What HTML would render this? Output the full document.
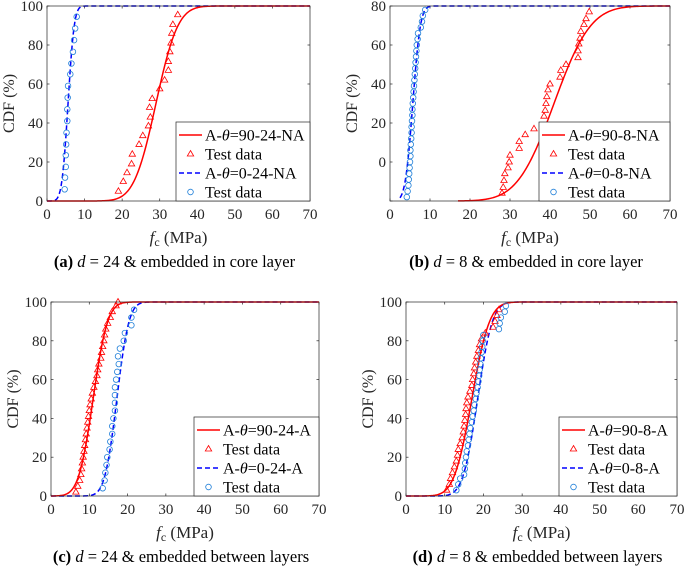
<!DOCTYPE html>
<html><head><meta charset="utf-8"><style>
body{margin:0;background:#fff;}
svg, svg text{font-family:"Liberation Serif","DejaVu Serif",serif;}
</style></head><body>
<svg id="fig" width="685" height="569" viewBox="0 0 685 569" font-family="Liberation Serif, serif" xmlns="http://www.w3.org/2000/svg"></svg>
<script>
// ---- Data ----
const xTicks = [0,10,20,30,40,50,60,70];
const yTicks100 = [0,20,40,60,80,100];
const yTicksB = [-20,0,20,40,60,80];
const yLabelsB = ["","0","20","40","60","80"];
// fitted normal params [mean, sd]
const fitA90 = [29, 4.6];
const fitA0 = [5.6, 1.3];
const fitB90 = [41, 7.2];
const fitB0 = [5.7, 1.5];
const fitC90 = [11, 3.0];
const fitC0 = [17.2, 2.5];
const fitD90 = [17, 3.6];
const fitD0 = [18.5, 3.0];
// test data
const triAx = [19,20.3,21.3,22.5,22.7,24.5,25.5,27,27.5,27.3,28,30,31.3,32.3,32.3,32.7,33,33.2,33.5,34.8];
const triAy = [5,10,14.5,19,24,29,33.5,38.5,43,48,52.5,57.5,62,67,71.5,76.5,81,86,90.5,95.5];
const cirAx = [4.7,4.8,5,5,5.1,5.2,5.4,5.4,5.5,5.6,6.2,6.5,6.9,7.2,7.5,7.9];
const cirAy = [6,12,17.5,23.5,29,35,41,47,53,59,65,70.5,76.5,82.5,88.5,94.5];
const triBx = [28,28.3,28.5,28.7,29.5,29.8,30,32.3,32.3,33.8,36,38.5,38.8,39,39.2,39.5,40,42.5,42.7,44,47,47,47.2,47.5,47.7,48.5,49,49.8];
const triBy = [-16,-13,-9.5,-6,-3,0,3.5,7,10.5,14,17,23.5,26.5,30,33.5,37,40,43.5,47,50,53.5,57,60.5,63.5,67,70.5,73.5,77];
const cirBx = [4.2,4.4,4.6,4.7,4.8,4.9,5.0,5.1,5.1,5.2,5.3,5.4,5.4,5.5,5.6,5.6,5.7,5.8,5.9,6.0,6.1,6.2,6.3,6.4,6.5,6.6,6.7,6.9,7.0,7.7,8.0,8.2,8.8];
const cirBy = [-18,-15,-12,-9,-6,-3,0,3,6,9,12,15,18,21,24,27,30,33,36,39,42,45,48,51,54,57,60,63,66,69,72,75,78];
const triCx = [6.5,7,7.5,7.8,8,8.2,8.4,8.6,8.8,9,9.2,9.4,9.6,9.8,10,10.2,10.5,10.8,11.2,11.6,12,12.2,12.5,13,13.2,13.5,13.8,14,14.3,14.8,15.5,16,17,17.5];
const triCy = [2,5,8,11,14,17,20,23,26,29,32,35,38,41,44,47,50,53,56,59,62,65,68,71,74,77,80,83,86,89,92,95,98,100];
const cirCx = [13.5,14,14.2,14.5,14.7,15.3,15.5,16,16,16.3,16.7,16.7,16.7,16.7,17,17.3,17.7,17.5,18,19,19.3,21,21,21.7];
const cirCy = [4,8,12,16,20,24,28,32,36,40,44,48,52,56,60,64,68,72,76,80,84,88,92,96];
const triDx = [10.5,11.2,11.5,12,12.5,13,13.3,13.5,14,14.5,14.8,15,15.2,15.4,15.5,15.7,16,16.5,17,17.2,17.5,17.7,18,18.3,18.7,19,19.5,20.5,22.5,23,23.5,24];
const triDy = [3,6,9,12,15,18,21,24,27,30,33,36,39,42,45,48,51,54,57,60,63,66,69,72,75,78,81,84,87,90,93,96];
const cirDx = [13,13.5,14,15,15.2,15.3,15.5,15.7,16,16.2,16.4,16.6,17,17.2,17.5,17.7,18,18.2,18.5,18.7,18.9,19,19.2,19.3,19.5,19.7,19.8,20,24,24.2,24.5,25.5,25.8];
const cirDy = [3,6,9,11,14,17,20,23,26,29,32,35,38,41,44,47,50,53,56,59,62,65,68,71,74,77,80,83,86,89,92,95,98];

const NS="http://www.w3.org/2000/svg";
const FF='"Liberation Serif", serif';
const svg=document.getElementById('fig');
function mk(tag,attrs,parent){const e=document.createElementNS(NS,tag);for(const k in attrs)e.setAttribute(k,attrs[k]);if(tag==='text')e.style.fontFamily=FF;(parent||svg).appendChild(e);return e;}
function erf(x){const s=x<0?-1:1;x=Math.abs(x);const t=1/(1+0.3275911*x);const y=1-(((((1.061405429*t-1.453152027)*t)+1.421413741)*t-0.284496736)*t+0.254829592)*t*Math.exp(-x*x);return s*y;}
function ncdf(x,p){return 0.5*(1+erf((x-p[0])/(p[1]*Math.SQRT2)));}

function panel(o){
  const g=mk('g',{});
  
  
  const X=v=>o.L+(v-0)/70*(o.R-o.L);
  const Y=v=>o.B-(v-o.ymin)/(o.ymax-o.ymin)*(o.B-o.T);
  mk('rect',{x:o.L,y:o.T,width:o.R-o.L,height:o.B-o.T,fill:'#fff',stroke:'none'},g);
  xTicks.forEach(t=>{
    const x=X(t);
    mk('line',{x1:x,x2:x,y1:o.B,y2:o.B-2.5,stroke:'#262626','stroke-width':0.7},g);
    mk('line',{x1:x,x2:x,y1:o.T,y2:o.T+2.5,stroke:'#262626','stroke-width':0.7},g);
    const tl=mk('text',{x:x,y:o.B+18,'text-anchor':'middle','font-size':15,fill:'#262626'},g);
    
    
    tl.textContent=t;
  });
  o.yt.forEach((t,i)=>{
    const y=Y(t);
    mk('line',{x1:o.L,x2:o.L+2.5,y1:y,y2:y,stroke:'#262626','stroke-width':0.7},g);
    mk('line',{x1:o.R,x2:o.R-2.5,y1:y,y2:y,stroke:'#262626','stroke-width':0.7},g);
    const tl=mk('text',{x:o.L-4,y:y+5,'text-anchor':'end','font-size':15,fill:'#262626'},g);
    
    
    tl.textContent=o.yl?o.yl[i]:t;
  });
  function curve(p,color,dash,nm){
    let d='';
    for(let i=0;i<=280;i++){const x=i*0.25;if(o.cstart&&x<o.cstart[nm])continue;const v=o.ymin+(o.ymax-o.ymin)*ncdf(x,p);d+=(d?'L':'M')+X(x).toFixed(2)+','+Y(v).toFixed(2);}
    const pth=mk('path',{d:d,fill:'none',stroke:color,'stroke-width':1.5,'stroke-dasharray':dash||'none'},g);
    
    
  }
  curve(o.f0,'#0000ff','5,3','blue');
  curve(o.f90,'#ff0000',null,'red');
  o.tx.forEach((x,i)=>{
    const cx=X(x),cy=Y(o.ty[i]);
    const m=mk('path',{d:`M${cx},${cy-3.5}L${cx+3.2},${cy+2}L${cx-3.2},${cy+2}Z`,fill:'none',stroke:'#ff0000','stroke-width':0.8},g);
    
    
  });
  o.cx.forEach((x,i)=>{
    const m=mk('circle',{cx:X(x),cy:Y(o.cy[i]),r:2.8,fill:'none',stroke:'#1f7fd8','stroke-width':0.8},g);
    
    
  });
  mk('rect',{x:o.L,y:o.T,width:o.R-o.L,height:o.B-o.T,fill:'none',stroke:'#262626','stroke-width':0.7},g);
  const lg=mk('g',{},g);
  
  
  mk('rect',{x:o.lx,y:o.ly,width:o.R-o.lx,height:o.B-o.ly,fill:'#fff',stroke:'#262626','stroke-width':0.7},lg);
  const rows=[o.lab[0],'Test data',o.lab[1],'Test data'];
  rows.forEach((r,i)=>{
    const y=o.ly+13+i*19;
    const sx=o.lx+3,ex=o.lx+26;
    if(i==0)mk('line',{x1:sx,x2:ex,y1:y,y2:y,stroke:'#ff0000','stroke-width':1.5},lg);
    if(i==2)mk('line',{x1:sx,x2:ex,y1:y,y2:y,stroke:'#0000ff','stroke-width':1.5,'stroke-dasharray':'5,3'},lg);
    const mx=(sx+ex)/2;
    if(i==1)mk('path',{d:`M${mx},${y-3.5}L${mx+3.2},${y+2}L${mx-3.2},${y+2}Z`,fill:'none',stroke:'#ff0000','stroke-width':0.8},lg);
    if(i==3)mk('circle',{cx:mx,cy:y,r:2.8,fill:'none',stroke:'#1f7fd8','stroke-width':0.8},lg);
    const t=mk('text',{x:ex+3,y:y+5.5,'font-size':16,fill:'#000'},lg);
    
    
    if(i%2==0){
      const parts=r.split('θ');
      t.appendChild(document.createTextNode(parts[0]));
      const ts=mk('tspan',{'font-style':'italic'},t);ts.textContent='θ';
      t.appendChild(document.createTextNode(parts[1]));
    } else t.textContent=r;
  });
  const yl=mk('text',{x:0,y:0,'text-anchor':'middle','font-size':16,fill:'#262626',transform:`translate(${o.L-33},${(o.T+o.B)/2}) rotate(-90)`},g);
  
  
  yl.textContent='CDF (%)';
  const xl=mk('text',{x:(o.L+o.R)/2,y:o.B+42,'text-anchor':'middle','font-size':17,fill:'#262626'},g);
  
  
  xl.innerHTML='<tspan font-style="italic">f</tspan><tspan font-size="12" dy="3">c</tspan><tspan dy="-3"> (MPa)</tspan>';
  const cap=mk('text',{x:(o.L+o.R)/2-4,y:o.B+66,'text-anchor':'middle','font-size':16.5,fill:'#000'},g);
  
  
  cap.innerHTML='<tspan font-weight="bold">('+o.letter+')</tspan>  <tspan font-style="italic">d</tspan> = '+o.cap;
}

panel({name:'panel-a',L:47,R:310,T:6,B:201,ymin:0,ymax:100,yt:yTicks100,f90:fitA90,f0:fitA0,tx:triAx,ty:triAy,cx:cirAx,cy:cirAy,lx:176,ly:122,lab:['A-θ=90-24-NA','A-θ=0-24-NA'],letter:'a',cap:'24 &amp; embedded in core layer'});
panel({name:'panel-b',L:390,R:670,T:6,B:201,ymin:-20,ymax:80,yt:yTicksB,yl:yLabelsB,f90:fitB90,f0:fitB0,tx:triBx,ty:triBy,cx:cirBx,cy:cirBy,lx:539,ly:122,lab:['A-θ=90-8-NA','A-θ=0-8-NA'],letter:'b',cap:'8 &amp; embedded in core layer',cstart:{red:17,blue:2.5}});
panel({name:'panel-c',L:51,R:319,T:302,B:496,ymin:0,ymax:100,yt:yTicks100,f90:fitC90,f0:fitC0,tx:triCx,ty:triCy,cx:cirCx,cy:cirCy,lx:194,ly:417,lab:['A-θ=90-24-A','A-θ=0-24-A'],letter:'c',cap:'24 &amp; embedded between layers'});
panel({name:'panel-d',L:406,R:677,T:302,B:496,ymin:0,ymax:100,yt:yTicks100,f90:fitD90,f0:fitD0,tx:triDx,ty:triDy,cx:cirDx,cy:cirDy,lx:559,ly:417,lab:['A-θ=90-8-A','A-θ=0-8-A'],letter:'d',cap:'8 &amp; embedded between layers'});
</script>
</body></html>
